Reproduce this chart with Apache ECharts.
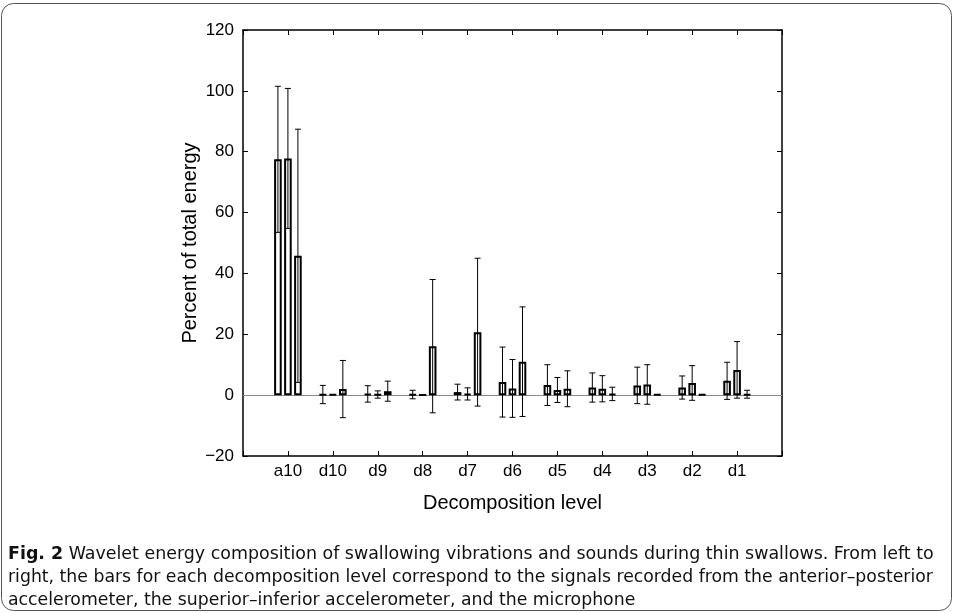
<!DOCTYPE html>
<html>
<head>
<meta charset="utf-8">
<script src="https://cdn.jsdelivr.net/npm/echarts@6/dist/echarts.min.js"></script>
<style>
html,body{margin:0;padding:0;background:#fff;}
#c{width:958px;height:613px;}
</style>
</head>
<body>
<div id="c"></div>
<script>
// ---- data ----
const categories = ['a10','d10','d9','d8','d7','d6','d5','d4','d3','d2','d1'];
// anterior–posterior accelerometer
const apMean = [77.5, 0.2, 0.4, 0.2, 1.0, 4.3, 3.3, 2.5, 3.2, 2.5, 4.7];
const apSD   = [24.0, 3.0, 2.7, 1.4, 2.6, 11.5, 6.7, 4.8, 6.0, 3.8, 6.1];
// superior–inferior accelerometer
const siMean = [77.8, 0.2, 0.2, 0.1, 0.4, 2.2, 1.7, 2.1, 3.5, 4.0, 8.3];
const siSD   = [23.0, 0.0, 1.2, 0.0, 2.0, 9.5, 4.1, 4.3, 6.5, 5.7, 9.3];
// microphone
const micMean = [45.8, 2.0, 1.3, 16.1, 20.7, 11.0, 2.1, 0.4, 0.2, 0.2, 0.3];
const micSD   = [41.6, 9.4, 3.3, 21.9, 24.3, 18.0, 5.9, 2.2, 0.0, 0.0, 1.3];

const yMin = -20, yMax = 120, yStep = 20;
const xTitle = 'Decomposition level';
const yTitle = 'Percent of total energy';
const captionBold = 'Fig. 2';
const captionLines = [
  'Wavelet energy composition of swallowing vibrations and sounds during thin swallows. From left to',
  'right, the bars for each decomposition level correspond to the signals recorded from the anterior\u2013posterior',
  'accelerometer, the superior\u2013inferior accelerometer, and the microphone'
];

// ---- styling ----
const FONT = "'Liberation Sans', Arial, Helvetica, sans-serif";
const CAPFONT = "'DejaVu Sans Condensed', 'Liberation Sans Narrow', 'Liberation Sans', sans-serif";
const BAR_W = 7.6, BAR_STEP = 10;
const BAR_GAP = BAR_STEP / BAR_W - 1;

const axisCats = [''].concat(categories, ['']);
const groups = [[apMean, apSD], [siMean, siSD], [micMean, micSD]];

const series = [];
groups.forEach(function (g, k) {
  const means = g[0];
  const bar = {
    type: 'bar',
    xAxisIndex: 0, yAxisIndex: 0,
    barWidth: BAR_W,
    barGap: (BAR_GAP * 100).toFixed(2) + '%',
    data: means.map(function (v, i) { return [i + 1, v]; }),
    itemStyle: { color: '#fff', borderColor: '#000', borderWidth: 2 },
    silent: true,
    z: 2
  };
  if (k === 0) {
    bar.markLine = {
      silent: true, symbol: 'none', z: 1,
      label: { show: false },
      lineStyle: { color: '#8a8a8a', width: 1, type: 'solid' },
      data: [{ yAxis: 0 }]
    };
  }
  series.push(bar);
});
groups.forEach(function (g, k) {
  const means = g[0], sds = g[1];
  const offset = (k - 1) * BAR_STEP;
  series.push({
    type: 'custom',
    xAxisIndex: 0, yAxisIndex: 0,
    z: 5, silent: true,
    data: means.map(function (v, i) { return [i + 1, v, sds[i]]; }),
    renderItem: function (params, api) {
      const x = api.value(0), m = api.value(1), s = api.value(2);
      if (!(s > 0)) return null;
      const top = api.coord([x, m + s]);
      const bot = api.coord([x, m - s]);
      const cx = top[0] + offset;
      const hw = 3;
      const st = { stroke: '#000', lineWidth: 1, fill: null };
      return {
        type: 'group',
        children: [
          { type: 'line', shape: { x1: cx, y1: top[1], x2: cx, y2: bot[1] }, style: st },
          { type: 'line', shape: { x1: cx - hw, y1: top[1], x2: cx + hw, y2: top[1] }, style: st },
          { type: 'line', shape: { x1: cx - hw, y1: bot[1], x2: cx + hw, y2: bot[1] }, style: st }
        ]
      };
    }
  });
});

const axLine = { show: true, onZero: false, lineStyle: { color: '#000', width: 1.5 } };
const tick = { show: true, inside: true, length: 5, lineStyle: { color: '#000', width: 1 } };
const option = {
  animation: false,
  backgroundColor: '#fff',
  grid: { left: 243, top: 30, width: 539, height: 426, containLabel: false },
  xAxis: [
    {
      type: 'category', data: axisCats, boundaryGap: false, position: 'bottom',
      axisLine: axLine,
      axisTick: Object.assign({ interval: 0 }, tick),
      axisLabel: { interval: 0, fontSize: 17, color: '#000', fontFamily: FONT, margin: 7 },
      splitLine: { show: false },
      name: xTitle, nameLocation: 'middle', nameGap: 37, nameMoveOverlap: false,
      nameTextStyle: { fontSize: 20, color: '#000', fontFamily: FONT }
    },
    {
      type: 'category', data: axisCats, boundaryGap: false, position: 'top',
      axisLine: axLine,
      axisTick: Object.assign({ interval: 0 }, tick),
      axisLabel: { show: false },
      splitLine: { show: false }
    }
  ],
  yAxis: [
    {
      type: 'value', min: yMin, max: yMax, interval: yStep, position: 'left',
      axisLine: axLine,
      axisTick: tick,
      axisLabel: {
        fontSize: 17, color: '#000', fontFamily: FONT, margin: 9,
        formatter: function (v) { return v < 0 ? '\u2212' + Math.abs(v) : String(v); }
      },
      splitLine: { show: false },
      name: yTitle, nameLocation: 'middle', nameGap: 43, nameMoveOverlap: false,
      nameTextStyle: { fontSize: 20, color: '#000', fontFamily: FONT }
    },
    {
      type: 'value', min: yMin, max: yMax, interval: yStep, position: 'right',
      axisLine: axLine,
      axisTick: tick,
      axisLabel: { show: false },
      splitLine: { show: false }
    }
  ],
  series: series,
  graphic: [
    {
      type: 'rect', silent: true, z: -1,
      shape: { x: 1.5, y: 3.5, width: 950, height: 607, r: 12 },
      style: { fill: null, stroke: '#555', lineWidth: 1 }
    },
    {
      type: 'text', silent: true, x: 8, y: 555, scaleX: 1.14,
      style: {
        x: 0, y: 0, verticalAlign: 'middle',
        text: '{b|' + captionBold + '} ' + captionLines[0],
        font: '17px ' + CAPFONT, fill: '#111',
        rich: { b: { fontWeight: 'bold', fontFamily: CAPFONT, fontSize: 17, fill: '#111' } }
      }
    },
    {
      type: 'text', silent: true, x: 8, y: 578, scaleX: 1.13,
      style: { x: 0, y: 0, verticalAlign: 'middle', text: captionLines[1], font: '17px ' + CAPFONT, fill: '#111' }
    },
    {
      type: 'text', silent: true, x: 8, y: 601, scaleX: 1.13,
      style: { x: 0, y: 0, verticalAlign: 'middle', text: captionLines[2], font: '17px ' + CAPFONT, fill: '#111' }
    }
  ]
};

const chart = echarts.init(document.getElementById('c'), null, { renderer: 'canvas' });
chart.setOption(option);
</script>
</body>
</html>
